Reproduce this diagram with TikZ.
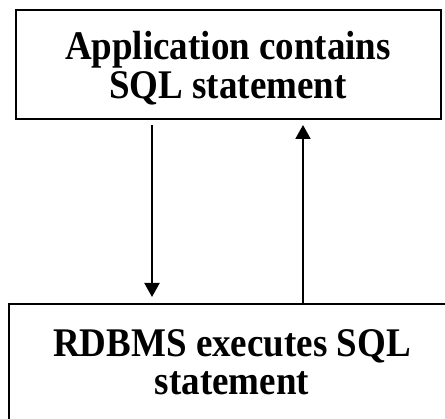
\documentclass[tikz,border=0pt]{standalone}
\usepackage{fontspec}
\setmainfont{Liberation Serif}
\usetikzlibrary{arrows.meta}
% two centred bold lines, drawn slightly tall
\newcommand{\talllines}[1]{\scalebox{1}[1.1]{\begin{minipage}{420pt}\centering
  \fontsize{37}{35}\selectfont\bfseries #1\end{minipage}}}
\begin{document}
\begin{tikzpicture}[x=1pt,y=-1pt,
  box/.style={draw=black,line width=2pt,inner sep=0pt},
  boxtext/.style={inner sep=0pt},
  flow/.style={line width=2pt,-{Triangle[width=15pt,length=14pt]}}]
  \useasboundingbox (0,0) rectangle (445,419);
  \clip (0,0) rectangle (445,419);
  % upper box: the application
  \node[box,minimum width=425pt,minimum height=109pt] (app) at (228.5,64.5) {};
  \node[boxtext] (apptext) at (228,68) {\talllines{Application contains\\SQL statement}};
  % lower box: the database system (runs past the page edge)
  \node[box,minimum width=446pt,minimum height=140pt] (rdbms) at (232,374) {};
  \node[boxtext] (rdbmstext) at (232,362) {\talllines{RDBMS executes SQL\\statement}};
  % arrow columns
  \coordinate (downx) at (152,0);
  \coordinate (upx) at (303,0);
  \draw[flow] ([yshift=-5pt]app.south -| downx) -- ([yshift=6pt]rdbms.north -| downx);
  \draw[flow] (rdbms.north -| upx) -- ([yshift=-5pt]app.south -| upx);
\end{tikzpicture}
\end{document}
